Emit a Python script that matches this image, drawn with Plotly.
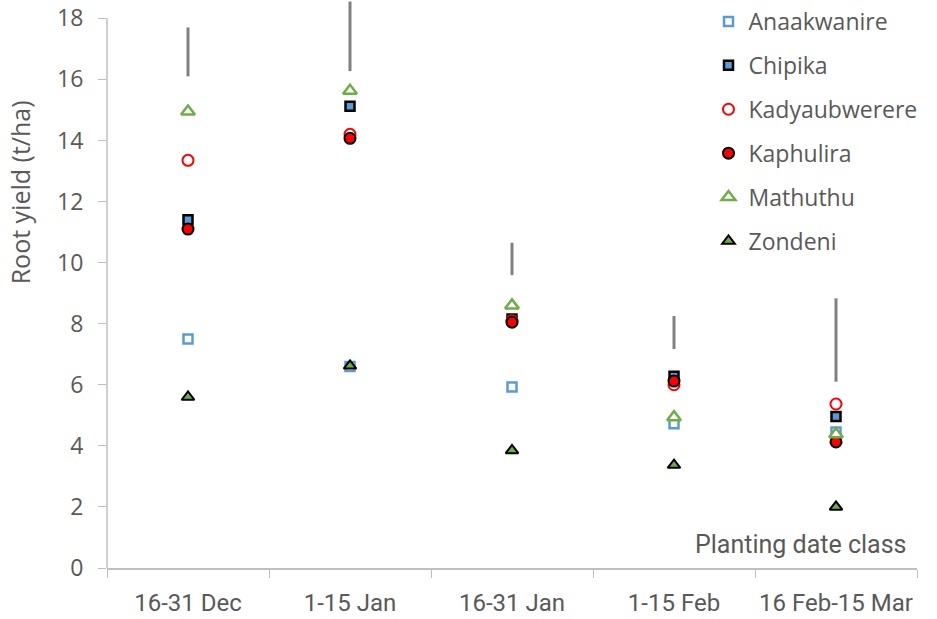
import plotly.graph_objects as go

# Planting date classes (x categories)
date_classes = ["16-31 Dec", "1-15 Jan", "16-31 Jan", "1-15 Feb", "16 Feb-15 Mar"]

# Root yield (t/ha) per variety
anaakwanire = [7.5, 6.6, 5.93, 4.72, 4.45]
chipika = [11.4, 15.12, 8.15, 6.28, 4.96]
kadyaubwerere = [13.35, 14.2, 8.1, 6.0, 5.37]
kaphulira = [11.1, 14.07, 8.05, 6.12, 4.13]
mathuthu = [14.95, 15.63, 8.6, 4.94, 4.38]
zondeni = [5.6, 6.62, 3.85, 3.37, 2.0]

# LSD bars (lower and upper end) per planting date class
lsd_low = [16.1, 16.27, 9.59, 7.17, 6.1]
lsd_high = [17.7, 18.55, 10.65, 8.25, 8.83]

y_ticks = [0, 2, 4, 6, 8, 10, 12, 14, 16, 18]

BLUE = "#5B9BD5"
GREEN = "#70AD47"
RED = "#FF0000"
TEXT = "#595959"
AXIS = "#BFBFBF"

fig = go.Figure()

# vertical LSD bars, one segment per class
bx, by = [], []
for c, lo, hi in zip(date_classes, lsd_low, lsd_high):
    bx += [c, c, None]
    by += [lo, hi, None]
fig.add_trace(go.Scatter(x=bx, y=by, mode="lines", line=dict(color="#808080", width=3),
                         showlegend=False, hoverinfo="skip"))

series = [
    ("Anaakwanire", anaakwanire, dict(symbol="square", size=9, color="white", line=dict(color=BLUE, width=2.5))),
    ("Chipika", chipika, dict(symbol="square", size=9, color=BLUE, line=dict(color="black", width=2.5))),
    ("Kadyaubwerere", kadyaubwerere, dict(symbol="circle", size=11, color="white", line=dict(color=RED, width=2))),
    ("Kaphulira", kaphulira, dict(symbol="circle", size=11, color=RED, line=dict(color="black", width=2))),
    ("Mathuthu", mathuthu, dict(symbol="triangle-up", size=12, color="white", line=dict(color=GREEN, width=2.5))),
    ("Zondeni", zondeni, dict(symbol="triangle-up", size=11, color=GREEN, line=dict(color="black", width=2))),
]
for name, vals, marker in series:
    fig.add_trace(go.Scatter(x=date_classes, y=vals, mode="markers", name=name,
                             marker=marker, legendgroup=name, cliponaxis=False))

fig.update_layout(
    width=937, height=619,
    margin=dict(l=107, r=20, t=0, b=51),
    paper_bgcolor="white", plot_bgcolor="white",
    font=dict(family="Open Sans, sans-serif", size=20, color=TEXT),
    legend=dict(x=0.7426, y=1.0, xanchor="left", yanchor="top",
                font=dict(size=23, color=TEXT), tracegroupgap=11,
                bgcolor="rgba(0,0,0,0)", itemwidth=30),
    xaxis=dict(type="category", range=[-0.5, 4.5], showgrid=False, automargin=False,
               showline=True, linecolor=AXIS, linewidth=1.5,
               ticks="outside", tickson="boundaries", ticklen=8, tickcolor=AXIS,
               ticklabelstandoff=12, tickangle=0,
               tickfont=dict(family="Roboto, sans-serif", size=24, color=TEXT)),
    yaxis=dict(range=[0, 18.6], showgrid=False, zeroline=False, showline=False, automargin=False,
               tickvals=y_ticks, ticks="outside", ticklen=8, tickcolor=AXIS,
               ticklabelstandoff=10,
               tickfont=dict(size=23, color=TEXT)),
    annotations=[
        dict(text="Root yield (t/ha)", xref="paper", yref="paper", textangle=-90,
             x=-0.107, y=0.662, xanchor="center", yanchor="middle", showarrow=False,
             font=dict(size=25, color=TEXT)),
        dict(text="Planting date class", xref="paper", yref="paper",
             x=0.989, y=0.012, xanchor="right", yanchor="bottom", showarrow=False,
             font=dict(family="Roboto, sans-serif", size=25, color=TEXT)),
    ],
    shapes=[dict(type="line", xref="paper", yref="y", x0=0, x1=0, y0=0, y1=18,
                 line=dict(color=AXIS, width=1.5))],
)

fig.write_html("out.html")
